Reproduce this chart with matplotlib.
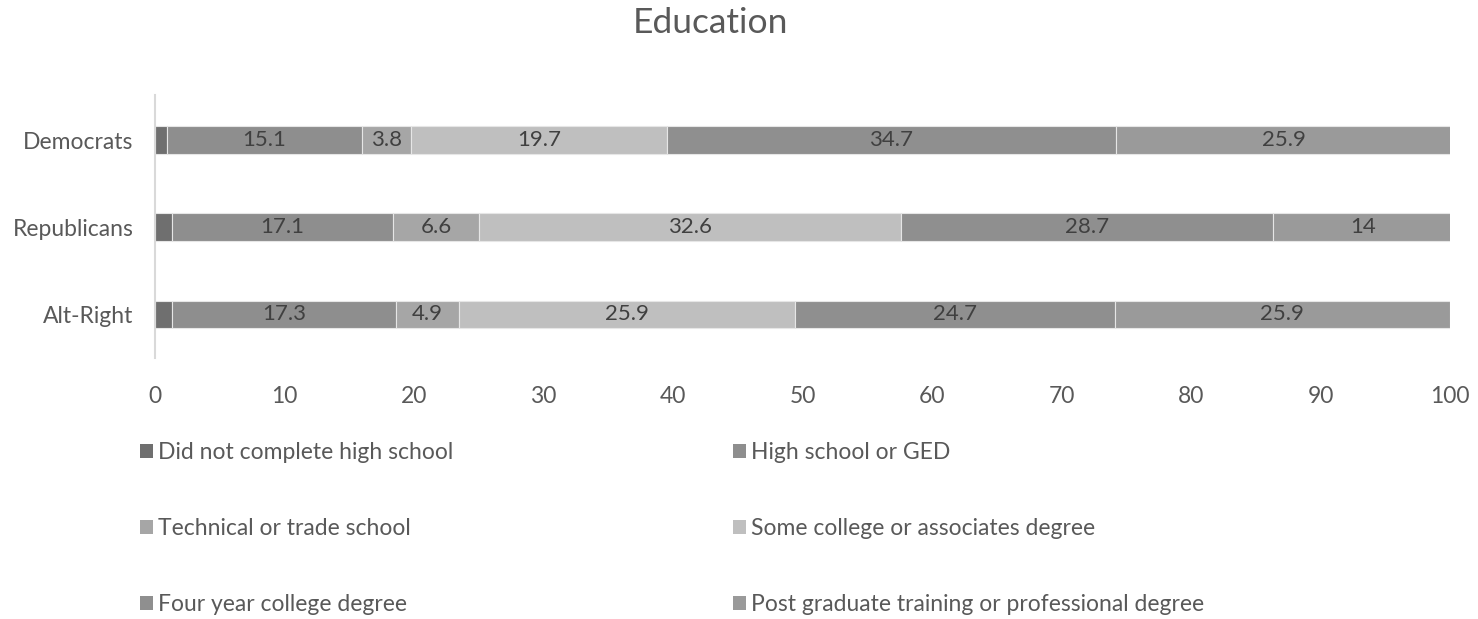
import matplotlib
matplotlib.use("Agg")
import matplotlib.pyplot as plt
from matplotlib.patches import Patch

plt.rcParams['font.family'] = ['Lato', 'DejaVu Sans']

groups = ["Democrats", "Republicans", "Alt-Right"]
levels = [
    "Did not complete high school",
    "High school or GED",
    "Technical or trade school",
    "Some college or associates degree",
    "Four year college degree",
    "Post graduate training or professional degree",
]
# shares (%) per group, one list per education level, ordered as `groups`
no_hs = [0.9, 1.3, 1.3]
hs_ged = [15.1, 17.1, 17.3]
technical = [3.8, 6.6, 4.9]
some_college = [19.7, 32.6, 25.9]
four_year = [34.7, 28.7, 24.7]
post_grad = [25.9, 14, 25.9]
series = [no_hs, hs_ged, technical, some_college, four_year, post_grad]
show_label = [False, True, True, True, True, True]

colors = ["#6f6f6f", "#8e8e8e", "#a6a6a6", "#bfbfbf", "#8f8f8f", "#9a9a9a"]
text_color = "#595959"
label_color = "#404040"

fig = plt.figure(figsize=(14.78, 6.19), dpi=100)
ax = fig.add_axes([155 / 1478, 1 - 358 / 619, (1450 - 155) / 1478, (358 - 95) / 619])

ypos = [2, 1, 0]
left = [0.0, 0.0, 0.0]
for vals, col, lab, show in zip(series, colors, levels, show_label):
    ax.barh(ypos, vals, left=left, height=0.32, color=col,
            edgecolor="#e6e6e6", linewidth=0.8, label=lab)
    if show:
        for y, l, v in zip(ypos, left, vals):
            ax.text(l + v / 2, y, f"{v:g}", ha="center", va="center",
                    fontsize=16, color=label_color)
    left = [a + b for a, b in zip(left, vals)]

ax.set_xlim(0, 100)
ax.set_ylim(-0.5, 2.52)
ax.set_xticks(range(0, 101, 10))
ax.set_yticks(ypos)
ax.set_yticklabels(groups)
ax.tick_params(axis="both", length=0, labelsize=16.5, colors=text_color)
ax.tick_params(axis="x", pad=20)
ax.tick_params(axis="y", pad=15.5)
for s in ["top", "right", "bottom"]:
    ax.spines[s].set_visible(False)
ax.spines["left"].set_color("#d9d9d9")
ax.spines["left"].set_linewidth(1.5)

fig.text(710 / 1478, 1 - 23 / 619, "Education", ha="center", va="center",
         fontsize=25.5, color=text_color)

handles = [Patch(facecolor=c, edgecolor="none") for c in colors]
for col_idx, x0 in enumerate([140, 733]):
    idx = [col_idx, col_idx + 2, col_idx + 4]
    leg = fig.legend([handles[i] for i in idx], [levels[i] for i in idx],
                     loc="upper left", bbox_to_anchor=(x0 / 1478, 1 - 442 / 619),
                     frameon=False, fontsize=16.5, labelspacing=2.4,
                     handlelength=0.55, handleheight=0.55, handletextpad=0.25,
                     borderpad=0, borderaxespad=0)
    for t in leg.get_texts():
        t.set_color(text_color)

fig.savefig("out.png", dpi=100, facecolor="white")
